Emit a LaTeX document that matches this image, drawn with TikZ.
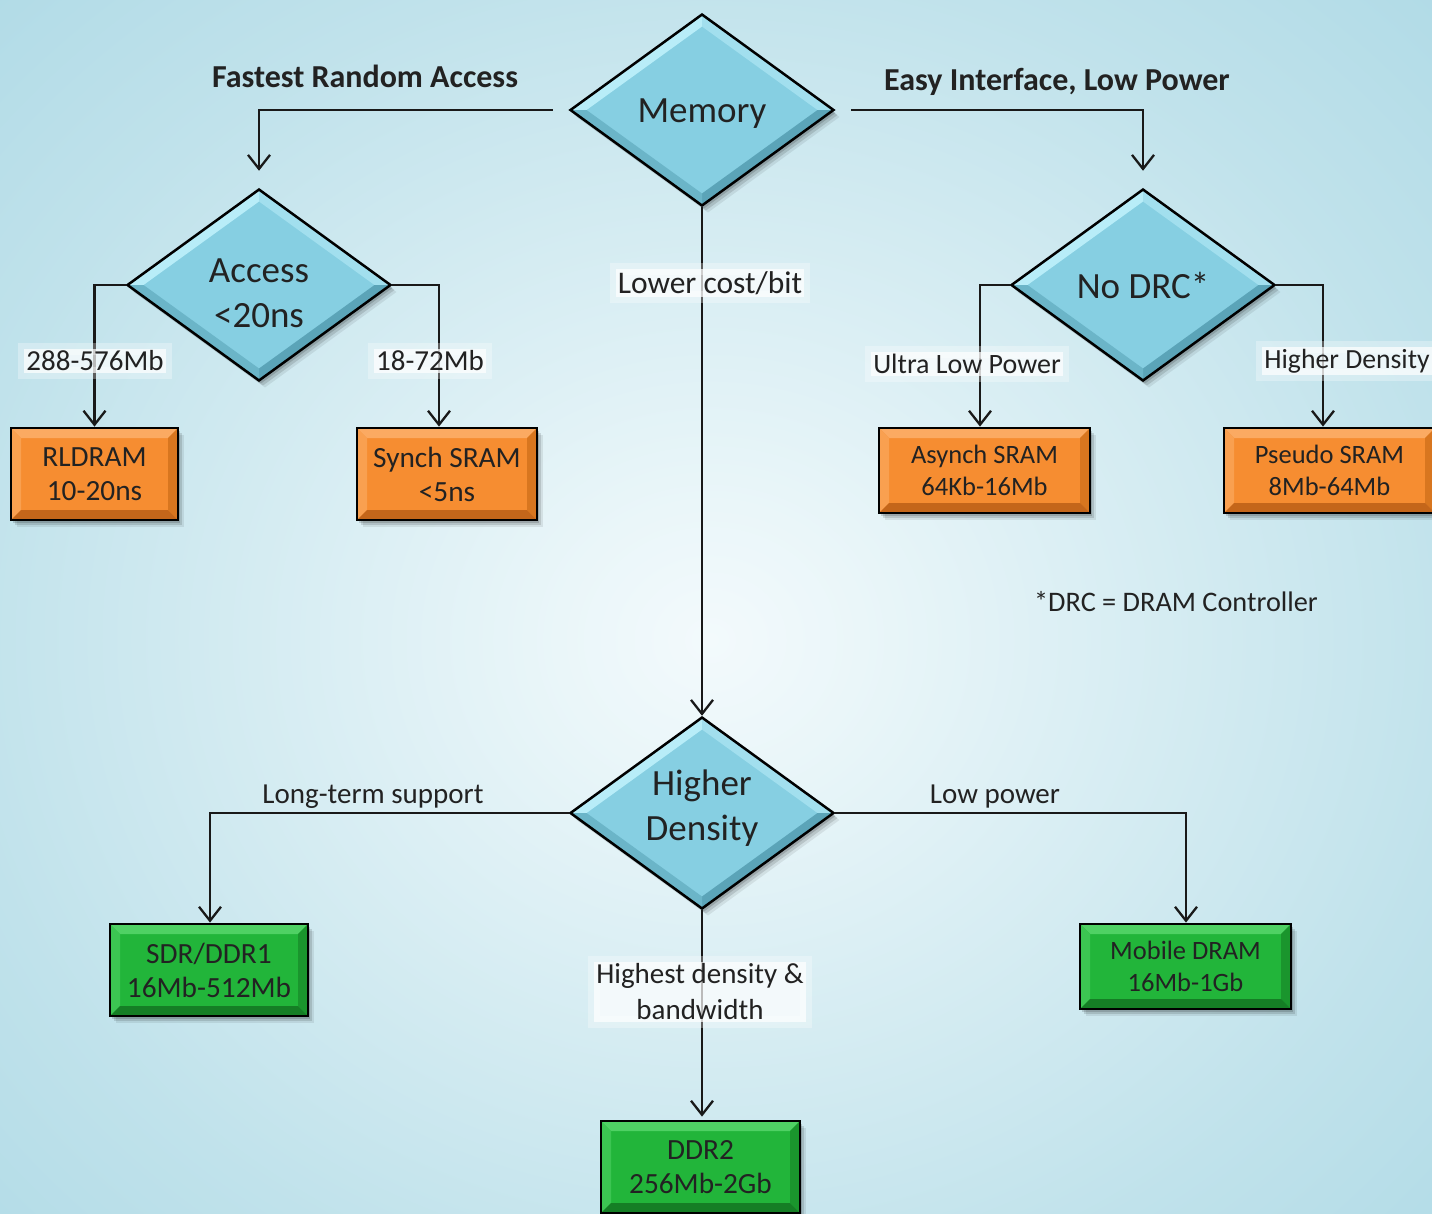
\documentclass[tikz,border=0pt]{standalone}
\usepackage{fontspec}
\setmainfont{Carlito}
\usetikzlibrary{shapes.geometric,arrows.meta,calc,shadows}
\definecolor{bgin}{HTML}{F3FAFC}
\definecolor{bgin2}{HTML}{EAF6F9}
\definecolor{bgmid}{HTML}{C0E2EB}
\definecolor{bgmid2}{HTML}{9ED2E1}
\definecolor{bgout}{HTML}{8CC8DA}
\definecolor{txt}{HTML}{222222}
\definecolor{dface}{HTML}{86CFE2}
\definecolor{dnw}{HTML}{B8EDF8}
\definecolor{dne}{HTML}{A2DFEE}
\definecolor{dse}{HTML}{5BA4B8}
\definecolor{dsw}{HTML}{6BB5C8}
\definecolor{oface}{HTML}{F68D31}
\definecolor{otop}{HTML}{FBAA62}
\definecolor{oleft}{HTML}{F9A050}
\definecolor{oright}{HTML}{D8761F}
\definecolor{obot}{HTML}{C4661A}
\definecolor{gface}{HTML}{22B53A}
\definecolor{gtop}{HTML}{4FD164}
\definecolor{gleft}{HTML}{3CC552}
\definecolor{gright}{HTML}{1A952D}
\definecolor{gbot}{HTML}{157E25}
\pgfdeclareradialshading{bgshade}{\pgfpoint{0bp}{0bp}}{color(0bp)=(bgin); color(5bp)=(bgin2); color(25bp)=(bgmid); color(45bp)=(bgmid2); color(65bp)=(bgout); color(100bp)=(bgout)}
\tikzset{
  softshadow/.style={
    drop shadow={shadow xshift=2pt, shadow yshift=-3pt, opacity=0.15, fill=black},
    drop shadow={shadow xshift=4pt, shadow yshift=-5pt, opacity=0.12, fill=black},
    drop shadow={shadow xshift=6pt, shadow yshift=-7pt, opacity=0.08, fill=black}},
  diam/.style={shape=diamond, aspect=1.375, draw=black, line width=2.5pt, fill=dface,
    minimum width=264pt, minimum height=192pt, inner sep=0pt, align=center, text=txt,
    font=\fontsize{37}{45}\selectfont, softshadow,
    path picture={
      \coordinate (N) at (path picture bounding box.north);
      \coordinate (S) at (path picture bounding box.south);
      \coordinate (E) at (path picture bounding box.east);
      \coordinate (W) at (path picture bounding box.west);
      \fill[dnw] (W) -- (N) -- ($(N)+(0,-12)$) -- ($(W)+(16,0)$) -- cycle;
      \fill[dne] (N) -- (E) -- ($(E)+(-16,0)$) -- ($(N)+(0,-12)$) -- cycle;
      \fill[dse] (E) -- (S) -- ($(S)+(0,12)$) -- ($(E)+(-16,0)$) -- cycle;
      \fill[dsw] (S) -- (W) -- ($(W)+(16,0)$) -- ($(S)+(0,12)$) -- cycle;
    }},
  boxbase/.style n args={5}{shape=rectangle, draw=black, line width=2.8pt, fill=#1,
    inner sep=0pt, align=center, text=txt,
    font=\fontsize{29.3}{34}\selectfont, softshadow,
    path picture={
      \coordinate (A) at (path picture bounding box.north west);
      \coordinate (B) at (path picture bounding box.north east);
      \coordinate (C) at (path picture bounding box.south east);
      \coordinate (D) at (path picture bounding box.south west);
      \fill[#2] (A) -- (B) -- ($(B)+(-10,-10)$) -- ($(A)+(10,-10)$) -- cycle;
      \fill[#3] (A) -- ($(A)+(10,-10)$) -- ($(D)+(10,10)$) -- (D) -- cycle;
      \fill[#4] (B) -- (C) -- ($(C)+(-10,10)$) -- ($(B)+(-10,-10)$) -- cycle;
      \fill[#5] (D) -- (C) -- ($(C)+(-10,10)$) -- ($(D)+(10,10)$) -- cycle;
    }},
  obox/.style={boxbase={oface}{otop}{oleft}{oright}{obot}},
  gbox/.style={boxbase={gface}{gtop}{gleft}{gright}{gbot}},
  smalltxt/.style={font=\fontsize{26.5}{32}\selectfont},
  conn/.style={draw=black!90, line width=2.3pt, -{Straight Barb[length=14pt,width=22pt]}},
  lab/.style={preaction={draw=white, line width=12pt, opacity=0.3, rounded corners=6pt},
    fill=white, fill opacity=0.7, text opacity=1, text=txt, inner sep=2pt,
    font=\fontsize{29}{36}\selectfont},
  plain/.style={text=txt, inner sep=0pt, font=\fontsize{29}{34}\selectfont},
  title/.style={text=txt, inner sep=0pt, font=\fontsize{32}{38}\selectfont\bfseries},
}
\newcommand{\shifttext}[2]{\raisebox{#1}[\height][\depth]{#2}}
\newcommand{\twoline}[3]{\shifttext{#1}{\begin{tabular}{@{}c@{}}#2\\#3\end{tabular}}}
\begin{document}
\begin{tikzpicture}[x=1pt,y=1pt]
\useasboundingbox (0,0) rectangle (1432,-1213);
\shade[shading=bgshade] (-50,-1320) rectangle (1470,40);

% decision diamonds
\node[diam] (mem) at (702,-110) {\shifttext{-4pt}{Memory}};
\node[diam] (acc) at (259,-285) {\twoline{-11pt}{Access}{<20ns}};
\node[diam] (drc) at (1143,-285) {No DRC*};
\node[diam] (hd) at (702,-813) {\twoline{4pt}{Higher}{Density}};

% boxes
\node[obox, minimum width=167pt, minimum height=92pt] (rl) at (94.5,-474) {RLDRAM\\10-20ns};
\node[obox, minimum width=180pt, minimum height=92pt] (syn) at (447,-474) {Synch SRAM\\<5ns};
\node[obox, smalltxt, minimum width=211pt, minimum height=85pt] (asy) at (984.5,-470.5) {Asynch SRAM\\64Kb-16Mb};
\node[obox, smalltxt, minimum width=211pt, minimum height=85pt] (psd) at (1329.5,-470.5) {Pseudo SRAM\\8Mb-64Mb};
\node[gbox, minimum width=198pt, minimum height=92pt] (sdr) at (209,-970) {SDR/DDR1\\16Mb-512Mb};
\node[gbox, smalltxt, minimum width=211pt, minimum height=85pt] (mob) at (1185.5,-966.5) {Mobile DRAM\\16Mb-1Gb};
\node[gbox, minimum width=199pt, minimum height=92pt] (ddr) at (700.5,-1167) {DDR2\\256Mb-2Gb};

% connectors
\draw[conn, shorten <=16pt, shorten >=17pt] (mem.west) -| (acc.north);
\draw[conn, shorten <=16pt, shorten >=17pt] (mem.east) -| (drc.north);
\draw[conn] (mem.south) -- (hd.north);
\draw[conn] (acc.west) -| (rl.north);
\draw[conn] (acc.east) -| ([xshift=-8pt]syn.north);
\draw[conn] (drc.west) -| ([xshift=-4.5pt]asy.north);
\draw[conn] (drc.east) -| ([xshift=-6.5pt]psd.north);
\draw[conn] (hd.west) -| ([xshift=1pt]sdr.north);
\draw[conn] (hd.east) -| ([xshift=0.5pt]mob.north);
\draw[conn, shorten >=3pt] (hd.south) -- ([xshift=1.5pt]ddr.north);

% labels
\node[title] (t1) at (365,-76) {Fastest Random Access};
\node[title] (t2) at (1057,-82) {Easy Interface, Low Power};
\node[lab] (l1) at (95,-361) {288-576Mb};
\node[lab] (l2) at (430,-361) {18-72Mb};
\node[lab, font=\fontsize{28}{34}\selectfont] (l3) at (967,-364) {Ultra Low Power};
\node[lab, font=\fontsize{27.7}{34}\selectfont] (l4) at (1347,-361) {Higher Density};
\node[lab, font=\fontsize{31.5}{38}\selectfont] (l5) at (710,-283) {Lower cost/bit};
\node[lab, align=center] (l6) at (700,-992) {Highest density \&\\bandwidth};
\node[plain] (l7) at (373,-797) {Long-term support};
\node[plain] (l8) at (995,-797) {Low power};
\node[plain, font=\fontsize{28.3}{34}\selectfont] (fn) at (1176,-602) {*DRC = DRAM Controller};
\end{tikzpicture}
\end{document}
